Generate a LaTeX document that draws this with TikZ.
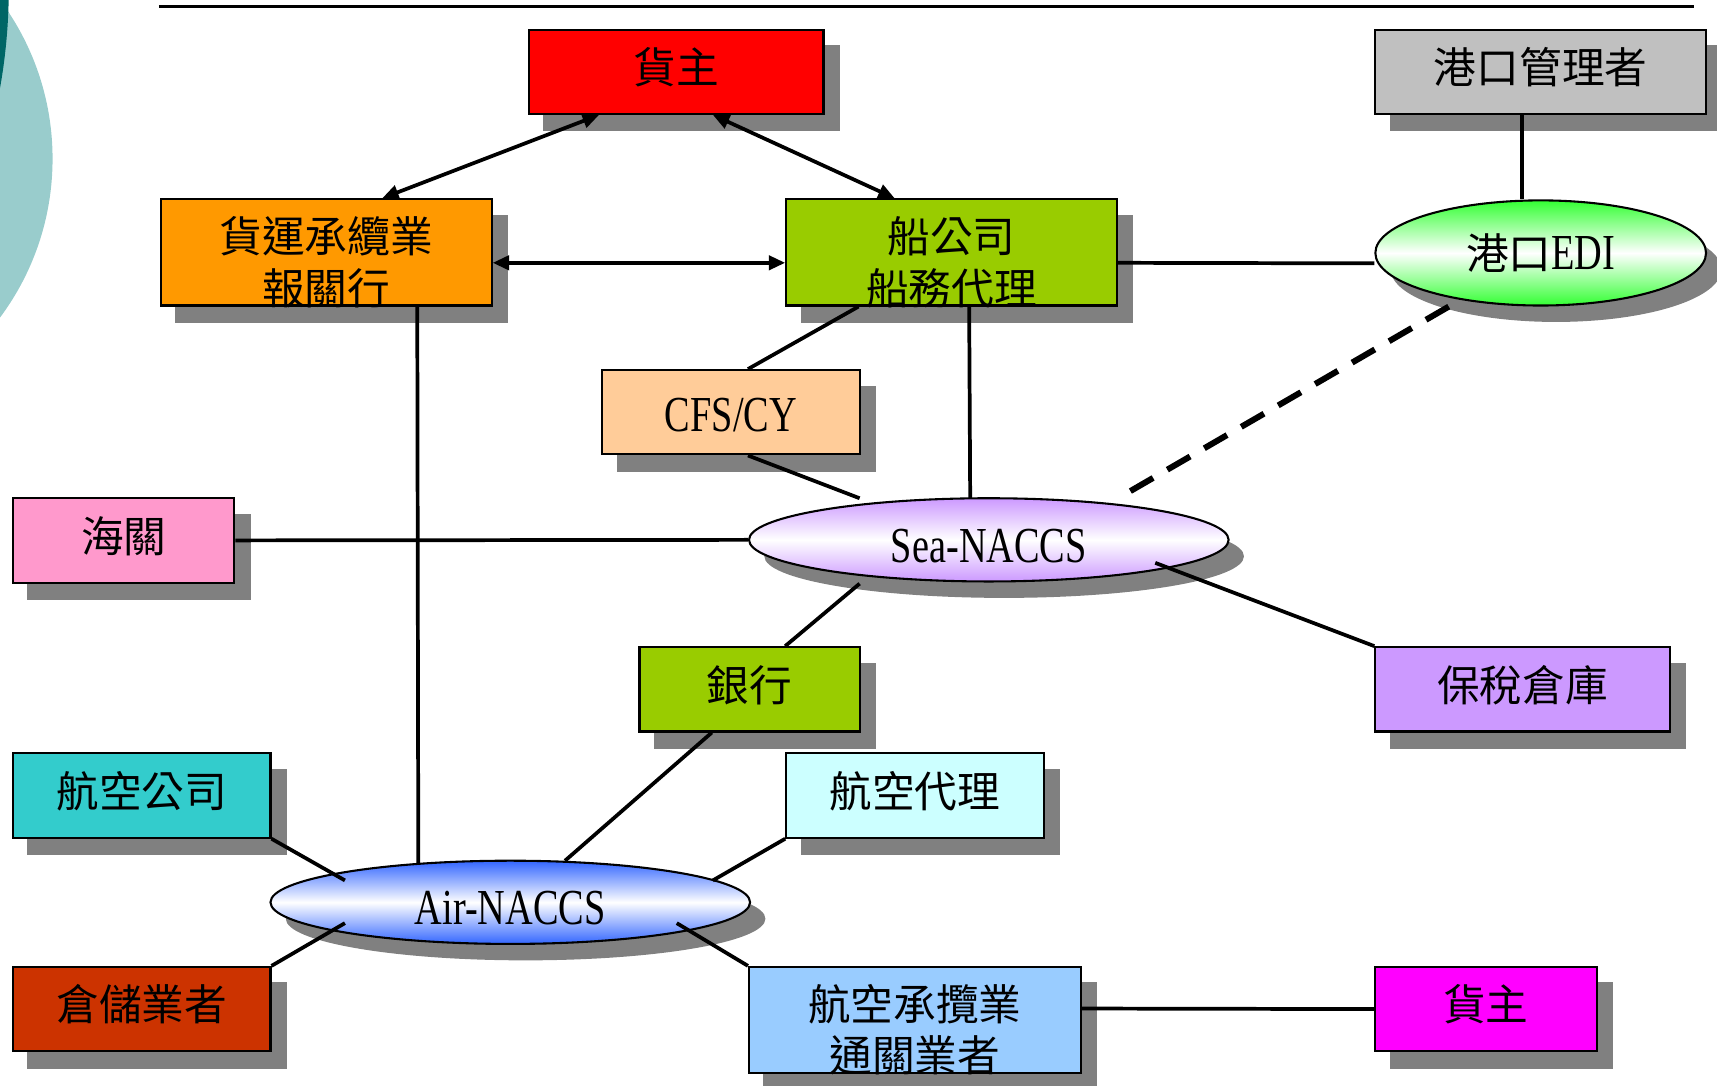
\documentclass[tikz,border=0pt]{standalone}
\usepackage{fontspec}
\setmainfont{Liberation Serif}
\newfontfamily\cjk{Noto Sans CJK TC}
\newfontfamily\lat[FakeStretch=0.76]{Liberation Serif}
\newcommand\cjkfont{\cjk\fontsize{39}{47}\selectfont}
\newcommand\latfont{\lat\fontsize{46}{50}\selectfont}
\usetikzlibrary{calc,backgrounds,arrows.meta,shapes.geometric}
\definecolor{shd}{HTML}{808080}
\definecolor{cred}{HTML}{FF0000}
\definecolor{cgray}{HTML}{C0C0C0}
\definecolor{corange}{HTML}{FF9900}
\definecolor{cgreen}{HTML}{99CC00}
\definecolor{cedi}{HTML}{33FF33}
\definecolor{cpeach}{HTML}{FFCC99}
\definecolor{cpink}{HTML}{FF99CC}
\definecolor{csea}{HTML}{CC99FF}
\definecolor{clav}{HTML}{CC99FF}
\definecolor{cteal}{HTML}{33CCCC}
\definecolor{ccyan}{HTML}{CCFFFF}
\definecolor{cair}{HTML}{3366FF}
\definecolor{cbrick}{HTML}{CC3300}
\definecolor{clblue}{HTML}{99CCFF}
\definecolor{cmag}{HTML}{FF00FF}
\definecolor{teallight}{HTML}{99CCCC}
\definecolor{tealdark}{HTML}{006666}
\begin{document}
\begin{tikzpicture}[x=1pt,y=-1pt,
  box/.style={draw=black,line width=1.9pt,inner sep=0pt,font=\cjkfont,text height=31pt,text depth=9.4pt},
  oval/.style={ellipse,draw=black,line width=1.9pt,inner sep=0pt,minimum width=438,minimum height=76,font=\latfont,text height=41pt,text depth=0pt},
  conn/.style={line width=3.4pt},
  biarrow/.style={conn,{Triangle[length=15pt,width=13pt]}-{Triangle[length=15pt,width=13pt]}},
  dashconn/.style={line width=5.5pt,dash pattern=on 24pt off 15pt},
  lbl/.style={align=center,font=\cjkfont,inner sep=0pt},
  shadowfill/.style={fill=shd}
]
\useasboundingbox (0,0) rectangle (1568,991);

% nodes
\node[box,fill=cred,minimum width=269,minimum height=77] (h1) at (617.5,65.5) {貨主};
\node[box,fill=cgray,minimum width=302,minimum height=77] (pm) at (1407,65.5) {港口管理者};
\node[box,fill=corange,minimum width=302,minimum height=97,label={[lbl,yshift=-9pt]center:{貨運承纜業\\報關行}}] (fw) at (298,230.5) {};
\node[box,fill=cgreen,minimum width=302,minimum height=97,label={[lbl,yshift=-9pt]center:{船公司\\船務代理}}] (sc) at (869,230.5) {};
\node[oval,minimum width=302,minimum height=96,text height=31pt,text depth=0pt,top color=cedi,bottom color=cedi,middle color=white] (edi) at (1407,231) {{\cjkfont 港口}EDI};
\node[box,fill=cpeach,minimum width=235,minimum height=77,font=\latfont,text height=35pt,text depth=0pt] (cfs) at (667.5,376.5) {CFS/CY};
\node[box,fill=cpink,minimum width=202,minimum height=77] (cu) at (113,493.5) {海關};
\node[oval,top color=csea,bottom color=csea,middle color=white] (sea) at (903,493) {Sea-NACCS};
\node[box,fill=cgreen,minimum width=201,minimum height=77] (bank) at (684.5,629.5) {銀行};
\node[box,fill=clav,minimum width=269,minimum height=77] (bw) at (1390.5,629.5) {保稅倉庫};
\node[box,fill=cteal,minimum width=235,minimum height=77] (al) at (129.5,726.5) {航空公司};
\node[box,fill=ccyan,minimum width=235,minimum height=77] (aa) at (835.5,726.5) {航空代理};
\node[oval,top color=cair,bottom color=cair,middle color=white] (air) at (466,824) {Air-NACCS};
\node[box,fill=cbrick,minimum width=235,minimum height=77] (wh) at (129.5,921.5) {倉儲業者};
\node[box,fill=clblue,minimum width=303,minimum height=97,label={[lbl,yshift=-9pt]center:{航空承攬業\\通關業者}}] (af) at (835.5,931.5) {};
\node[box,fill=cmag,minimum width=202,minimum height=77] (h2) at (1357,921.5) {貨主};

\begin{scope}[on background layer]
  \begin{scope}
    \clip (0,0) rectangle (1568,991);
    \fill[teallight] (-195,145) circle [radius=243];
    \fill[tealdark] (-502,-10) circle [radius=510];
  \end{scope}
  \draw[line width=2.6pt] (145,6) -- (1547,6);
  \foreach \n in {h1,pm,fw,sc,cfs,cu,bank,bw,al,aa,wh,af,h2}{
    \fill[shadowfill] ($(\n.south west)+(14,15)$) rectangle ($(\n.north east)+(14,15)$);
  }
  \fill[shadowfill] ($(edi.center)+(14,15)$) ellipse [x radius=151, y radius=48];
  \fill[shadowfill] ($(sea.center)+(14,15)$) ellipse [x radius=219, y radius=38];
  \fill[shadowfill] ($(air.center)+(14,15)$) ellipse [x radius=219, y radius=38];
\end{scope}

% connectors
\draw[biarrow] ($(h1.south west)+(65,0)$) -- ($(fw.north west)+(203,0)$);
\draw[biarrow] ($(h1.south west)+(169,0)$) -- ($(sc.north west)+(100,0)$);
\draw[biarrow] ($(fw.east)+(0,9.5)$) -- ($(sc.west)+(0,9.5)$);
\draw[conn] ($(sc.east)+(0,9.5)$) -- ($(edi.west)+(0,9.5)$);
\draw[conn] ($(pm.south)+(-17,0)$) -- ($(edi.north)+(-17,0)$);
\draw[dashconn] ($(edi.center)+(-84,49)$) -- ($(sea.center)+(118,-38)$);
\draw[conn] ($(sc.south west)+(67,0)$) -- ($(cfs.north west)+(134,0)$);
\draw[conn] ($(cfs.south west)+(134,0)$) -- ($(sea.center)+(-118,-38)$);
\draw[conn] ($(sc.south west)+(168,0)$) -- ($(sea.center)+(-17,-38)$);
\draw[conn] ($(fw.south west)+(235,0)$) -- ($(air.center)+(-84,-36)$);
\draw[conn] (cu.east) -- (sea.west);
\draw[conn] ($(sea.center)+(-118,40)$) -- ($(bank.north west)+(134,0)$);
\draw[conn] ($(sea.center)+(152,21)$) -- (bw.north west);
\draw[conn] ($(bank.south west)+(67,0)$) -- ($(air.center)+(50,-38)$);
\draw[conn] (al.south east) -- ($(air.center)+(-151,-20)$);
\draw[conn] (aa.south west) -- ($(air.center)+(185,-20)$);
\draw[conn] (wh.north east) -- ($(air.center)+(-151,19)$);
\draw[conn] ($(air.center)+(152,19)$) -- (af.north west);
\draw[conn] ($(af.east)+(0,-10.5)$) -- (h2.west);
\end{tikzpicture}
\end{document}
